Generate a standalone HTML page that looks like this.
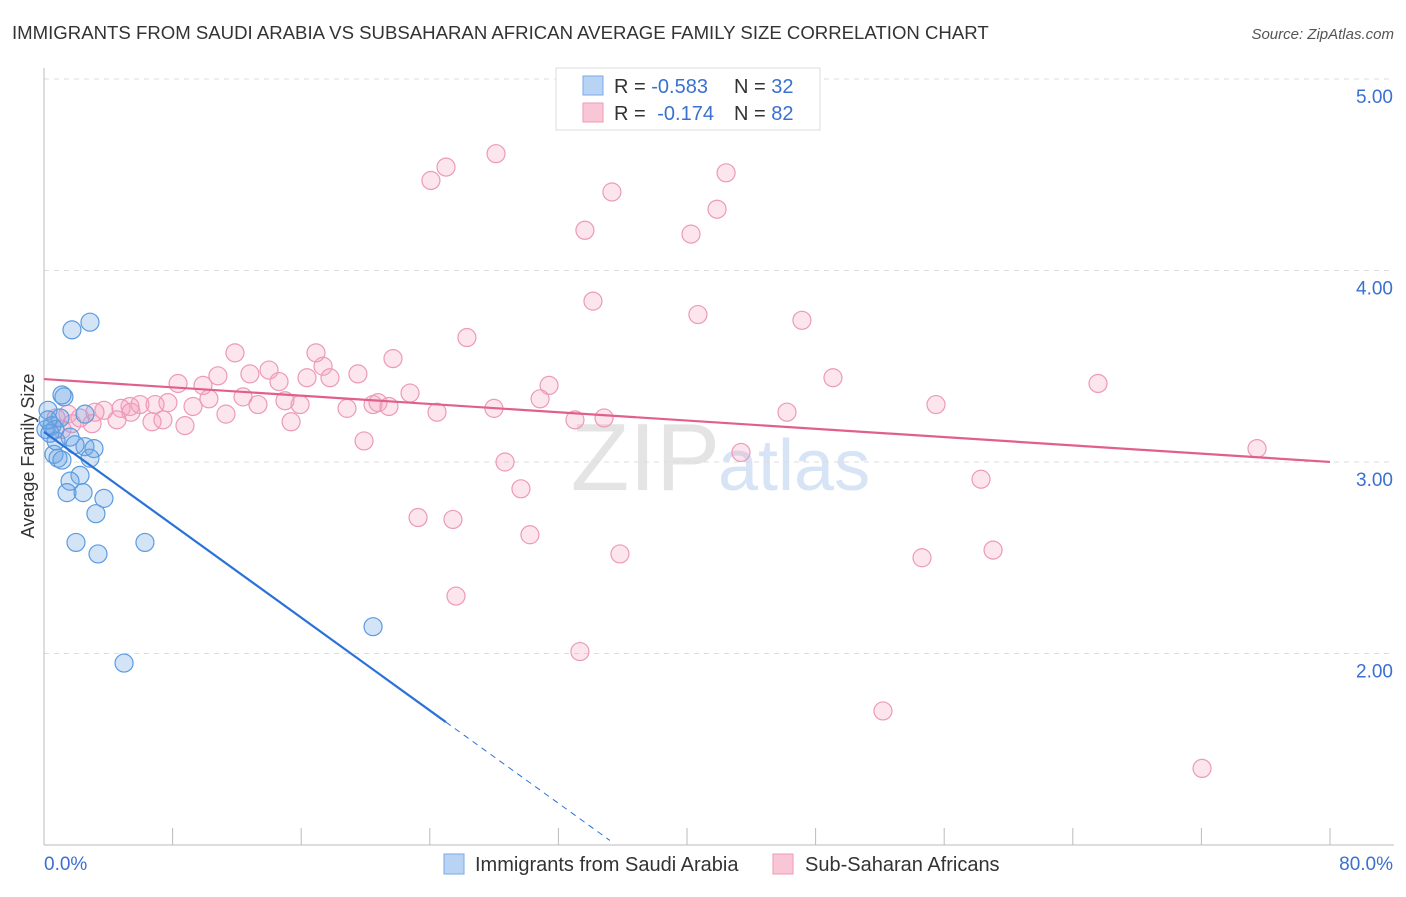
<!DOCTYPE html>
<html><head><meta charset="utf-8"><style>
body{margin:0;background:#fff;font-family:"Liberation Sans",sans-serif;}
svg text{font-family:"Liberation Sans",sans-serif;}
</style></head><body>
<svg id="c" width="1406" height="892" xmlns="http://www.w3.org/2000/svg">
<text x="12" y="39" font-size="18.6" fill="#333">IMMIGRANTS FROM SAUDI ARABIA VS SUBSAHARAN AFRICAN AVERAGE FAMILY SIZE CORRELATION CHART</text>
<text x="1394" y="39" font-size="15" fill="#555" font-style="italic" text-anchor="end">Source: ZipAtlas.com</text>
<text x="720" y="490" font-size="96" fill="#e4e4e4" text-anchor="end" font-family="Liberation Serif">ZIP</text>
<text x="718" y="490" font-size="72" fill="#d6e4f5">atlas</text>
<g id="grid"></g><g id="axes"></g><g id="pts"></g><g id="lines"></g>
<text transform="translate(34,456) rotate(-90)" font-size="18" fill="#333" text-anchor="middle">Average Family Size</text>
<g>
<rect x="556" y="68" width="264" height="62" fill="#fff" stroke="#ddd"/>
<rect x="583" y="76" width="20" height="19" fill="#b9d3f5" stroke="#7aa9e8"/>
<rect x="583" y="103" width="20" height="19" fill="#f9c6d6" stroke="#ee9ab6"/>
<text x="614" y="93" font-size="20" fill="#333">R = <tspan fill="#3a70d0">-0.583</tspan><tspan x="734">N = </tspan><tspan fill="#3a70d0">32</tspan></text>
<text x="614" y="120" font-size="20" fill="#333">R = <tspan fill="#3a70d0" dx="6">-0.174</tspan><tspan x="734">N = </tspan><tspan fill="#3a70d0">82</tspan></text>
</g>
<g>
<rect x="444" y="854" width="20" height="20" fill="#b9d3f5" stroke="#7aa9e8"/>
<text x="475" y="871" font-size="20" fill="#333">Immigrants from Saudi Arabia</text>
<rect x="773" y="854" width="20" height="20" fill="#f9c6d6" stroke="#ee9ab6"/>
<text x="805" y="871" font-size="20" fill="#333">Sub-Saharan Africans</text>
</g>
</svg>
<script>
const yTicks=[2,3,4,5];
const yTickLabels=["2.00","3.00","4.00","5.00"];
const xTicks=[0,8,16,24,32,40,48,56,64,72,80];
const blueX=[1.74,2.86,1.24,1.12,0.25,0.5,1.0,2.55,0.68,1.62,2.55,3.11,0.62,0.87,1.12,2.86,2.24,1.62,1.43,2.43,3.73,3.23,1.99,3.36,6.28,4.98,20.47,0.12,0.37,0.75,0.25,1.93];
const blueY=[3.69,3.73,3.34,3.35,3.27,3.19,3.23,3.25,3.17,3.13,3.08,3.07,3.04,3.02,3.01,3.02,2.93,2.90,2.84,2.84,2.81,2.73,2.58,2.52,2.58,1.95,2.14,3.17,3.15,3.11,3.22,3.09];
const pinkX=[24.07,25.01,28.12,35.33,42.43,33.65,41.87,40.25,34.15,40.68,47.15,26.31,11.88,16.92,21.71,17.36,14.0,10.82,12.81,16.36,19.53,17.79,8.34,9.89,31.42,14.62,22.77,49.08,65.57,12.38,10.26,13.31,7.71,5.97,6.91,5.35,3.73,4.79,18.85,20.47,20.78,21.46,15.93,14.99,9.27,11.32,15.37,24.45,27.99,33.03,34.84,46.22,55.49,30.86,4.54,5.41,6.72,7.40,8.77,2.99,2.24,1.49,1.74,1.12,19.91,43.36,75.46,28.68,29.67,58.29,23.27,25.44,30.23,35.83,54.62,59.04,25.63,33.34,52.19,72.04,3.17,0.75];
const pinkY=[4.47,4.54,4.61,4.41,4.51,4.21,4.32,4.19,3.84,3.77,3.74,3.65,3.57,3.57,3.54,3.50,3.48,3.45,3.46,3.44,3.46,3.44,3.41,3.40,3.40,3.42,3.36,3.44,3.41,3.34,3.33,3.30,3.31,3.30,3.30,3.29,3.27,3.28,3.28,3.30,3.31,3.29,3.30,3.32,3.29,3.25,3.21,3.26,3.28,3.22,3.23,3.26,3.30,3.33,3.22,3.26,3.21,3.22,3.19,3.20,3.23,3.25,3.20,3.17,3.11,3.05,3.07,3.00,2.86,2.91,2.71,2.70,2.62,2.52,2.50,2.54,2.30,2.01,1.70,1.40,3.26,3.23];
const blueFit=[3.157,-0.0606,25,35.2];
const pinkFit=[3.433,-0.00541,80];
const NS="http://www.w3.org/2000/svg";
const X=p=>44+p*16.075, Y=v=>462-(v-3)*191.5;
function mk(t,a,parent){const e=document.createElementNS(NS,t);for(const k in a)e.setAttribute(k,a[k]);document.getElementById(parent).appendChild(e);return e;}
yTicks.forEach((v,i)=>{
 const l=mk('line',{x1:44,x2:1394,y1:Y(v),y2:Y(v),stroke:'#ddd','stroke-dasharray':'5,5'},'grid');
 
 
 const t=mk('text',{x:1393,y:Y(v)+24,'font-size':19,fill:'#3a70d0','text-anchor':'end'},'grid');
 t.textContent=yTickLabels[i];
 
 
});
const ax=mk('line',{x1:44,x2:44,y1:68,y2:845,stroke:'#bbb'},'axes');


const bx=mk('line',{x1:44,x2:1394,y1:845,y2:845,stroke:'#bbb'},'axes');


xTicks.forEach(p=>{
 const t=mk('line',{x1:X(p),x2:X(p),y1:828,y2:845,stroke:'#bbb'},'axes');
 
 
});
const xl0=mk('text',{x:44,y:870,'font-size':19,fill:'#3a70d0'},'axes');xl0.textContent='0.0%';


const xl1=mk('text',{x:1393,y:870,'font-size':19,fill:'#3a70d0','text-anchor':'end'},'axes');xl1.textContent='80.0%';


pinkX.forEach((p,i)=>{
 const c=mk('circle',{cx:X(p),cy:Y(pinkY[i]),r:9,fill:'rgba(244,160,190,0.28)',stroke:'#ec9ab8','stroke-width':1.2},'pts');
 
 
});
blueX.forEach((p,i)=>{
 const c=mk('circle',{cx:X(p),cy:Y(blueY[i]),r:9,fill:'rgba(110,165,230,0.3)',stroke:'#5b9be0','stroke-width':1.2},'pts');
 
 
});
const pl=mk('line',{x1:X(0),y1:Y(pinkFit[0]),x2:X(pinkFit[2]),y2:Y(pinkFit[0]+pinkFit[1]*pinkFit[2]),stroke:'#e0608a','stroke-width':2.2},'lines');


const bl=mk('line',{x1:X(0),y1:Y(blueFit[0]),x2:X(blueFit[2]),y2:Y(blueFit[0]+blueFit[1]*blueFit[2]),stroke:'#2a72d8','stroke-width':2.2},'lines');


const bd=mk('line',{x1:X(blueFit[2]),y1:Y(blueFit[0]+blueFit[1]*blueFit[2]),x2:X(blueFit[3]),y2:Y(blueFit[0]+blueFit[1]*blueFit[3]),stroke:'#2a72d8','stroke-width':1,'stroke-dasharray':'6,5'},'lines');


</script>
</body></html>
